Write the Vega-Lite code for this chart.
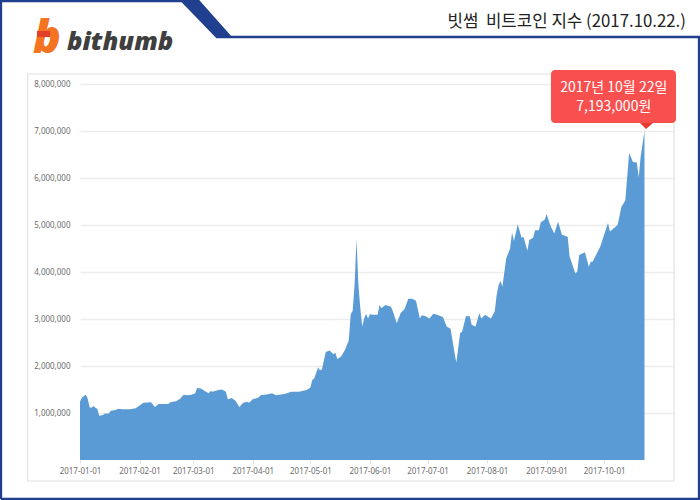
{
  "$schema": "https://vega.github.io/schema/vega-lite/v6.json",
  "autosize": {"type": "none"},
  "padding": {"left": 80, "top": 84, "right": 27, "bottom": 40},
  "width": 593,
  "height": 376,
  "background": "white",
  "datasets": {
    "index": [
      {"date":"2017-01-01","won":1240000},{"date":"2017-01-02","won":1330000},{"date":"2017-01-04","won":1390000},{"date":"2017-01-05","won":1310000},{"date":"2017-01-06","won":1120000},{"date":"2017-01-07","won":1110000},{"date":"2017-01-08","won":1150000},{"date":"2017-01-09","won":1110000},{"date":"2017-01-10","won":1090000},{"date":"2017-01-11","won":940000},{"date":"2017-01-13","won":960000},{"date":"2017-01-14","won":990000},{"date":"2017-01-16","won":990000},{"date":"2017-01-17","won":1050000},{"date":"2017-01-19","won":1060000},{"date":"2017-01-21","won":1090000},{"date":"2017-01-23","won":1080000},{"date":"2017-01-27","won":1080000},{"date":"2017-01-30","won":1100000},
      {"date":"2017-02-01","won":1160000},{"date":"2017-02-03","won":1220000},{"date":"2017-02-07","won":1230000},{"date":"2017-02-09","won":1130000},{"date":"2017-02-11","won":1190000},{"date":"2017-02-16","won":1190000},{"date":"2017-02-17","won":1230000},{"date":"2017-02-20","won":1250000},{"date":"2017-02-22","won":1300000},{"date":"2017-02-24","won":1390000},{"date":"2017-02-26","won":1380000},{"date":"2017-02-28","won":1390000},
      {"date":"2017-03-02","won":1420000},{"date":"2017-03-03","won":1530000},{"date":"2017-03-05","won":1520000},{"date":"2017-03-07","won":1470000},{"date":"2017-03-09","won":1420000},{"date":"2017-03-10","won":1470000},{"date":"2017-03-11","won":1450000},{"date":"2017-03-14","won":1490000},{"date":"2017-03-16","won":1500000},{"date":"2017-03-18","won":1450000},{"date":"2017-03-19","won":1290000},{"date":"2017-03-21","won":1320000},{"date":"2017-03-23","won":1260000},{"date":"2017-03-25","won":1130000},{"date":"2017-03-27","won":1220000},{"date":"2017-03-29","won":1240000},{"date":"2017-03-30","won":1220000},
      {"date":"2017-04-01","won":1290000},{"date":"2017-04-04","won":1330000},{"date":"2017-04-05","won":1380000},{"date":"2017-04-09","won":1400000},{"date":"2017-04-11","won":1420000},{"date":"2017-04-13","won":1380000},{"date":"2017-04-15","won":1390000},{"date":"2017-04-18","won":1410000},{"date":"2017-04-21","won":1450000},{"date":"2017-04-25","won":1450000},{"date":"2017-04-29","won":1490000},
      {"date":"2017-05-01","won":1540000},{"date":"2017-05-02","won":1700000},{"date":"2017-05-03","won":1740000},{"date":"2017-05-05","won":1970000},{"date":"2017-05-06","won":1910000},{"date":"2017-05-07","won":1930000},{"date":"2017-05-09","won":2300000},{"date":"2017-05-11","won":2330000},{"date":"2017-05-13","won":2250000},{"date":"2017-05-14","won":2280000},{"date":"2017-05-15","won":2150000},{"date":"2017-05-17","won":2200000},{"date":"2017-05-19","won":2340000},{"date":"2017-05-21","won":2550000},{"date":"2017-05-22","won":3100000},{"date":"2017-05-23","won":3170000},{"date":"2017-05-24","won":3720000},{"date":"2017-05-25","won":4700000},{"date":"2017-05-26","won":3720000},{"date":"2017-05-27","won":3230000},{"date":"2017-05-28","won":2840000},{"date":"2017-05-29","won":3010000},{"date":"2017-05-30","won":3110000},{"date":"2017-05-31","won":3010000},
      {"date":"2017-06-01","won":3100000},{"date":"2017-06-03","won":3090000},{"date":"2017-06-05","won":3090000},{"date":"2017-06-06","won":3300000},{"date":"2017-06-07","won":3230000},{"date":"2017-06-09","won":3300000},{"date":"2017-06-12","won":3260000},{"date":"2017-06-13","won":3160000},{"date":"2017-06-15","won":2910000},{"date":"2017-06-17","won":3130000},{"date":"2017-06-19","won":3210000},{"date":"2017-06-21","won":3430000},{"date":"2017-06-23","won":3430000},{"date":"2017-06-25","won":3390000},{"date":"2017-06-27","won":3010000},{"date":"2017-06-28","won":3080000},{"date":"2017-06-30","won":3060000},
      {"date":"2017-07-02","won":3010000},{"date":"2017-07-04","won":3110000},{"date":"2017-07-06","won":3090000},{"date":"2017-07-09","won":3040000},{"date":"2017-07-11","won":2840000},{"date":"2017-07-13","won":2790000},{"date":"2017-07-15","won":2300000},{"date":"2017-07-16","won":2070000},{"date":"2017-07-18","won":2700000},{"date":"2017-07-19","won":2730000},{"date":"2017-07-21","won":3060000},{"date":"2017-07-23","won":3060000},{"date":"2017-07-24","won":2880000},{"date":"2017-07-26","won":2840000},{"date":"2017-07-28","won":3120000},{"date":"2017-07-29","won":3010000},{"date":"2017-07-31","won":3090000},
      {"date":"2017-08-03","won":3010000},{"date":"2017-08-05","won":3160000},{"date":"2017-08-06","won":3510000},{"date":"2017-08-07","won":3720000},{"date":"2017-08-08","won":3810000},{"date":"2017-08-09","won":3690000},{"date":"2017-08-11","won":4290000},{"date":"2017-08-13","won":4500000},{"date":"2017-08-14","won":4840000},{"date":"2017-08-15","won":4660000},{"date":"2017-08-17","won":5010000},{"date":"2017-08-19","won":4730000},{"date":"2017-08-20","won":4750000},{"date":"2017-08-22","won":4450000},{"date":"2017-08-23","won":4680000},{"date":"2017-08-25","won":4730000},{"date":"2017-08-26","won":4890000},{"date":"2017-08-28","won":4890000},{"date":"2017-08-29","won":5060000},{"date":"2017-08-31","won":5110000},
      {"date":"2017-09-01","won":5230000},{"date":"2017-09-03","won":4990000},{"date":"2017-09-05","won":4820000},{"date":"2017-09-07","won":5070000},{"date":"2017-09-09","won":4790000},{"date":"2017-09-12","won":4750000},{"date":"2017-09-13","won":4330000},{"date":"2017-09-16","won":3970000},{"date":"2017-09-17","won":4010000},{"date":"2017-09-18","won":4360000},{"date":"2017-09-21","won":4420000},{"date":"2017-09-23","won":4110000},{"date":"2017-09-24","won":4220000},{"date":"2017-09-25","won":4220000},{"date":"2017-09-29","won":4540000},
      {"date":"2017-10-01","won":4790000},{"date":"2017-10-03","won":5040000},{"date":"2017-10-04","won":4860000},{"date":"2017-10-06","won":4930000},{"date":"2017-10-08","won":5000000},{"date":"2017-10-10","won":5390000},{"date":"2017-10-12","won":5520000},{"date":"2017-10-14","won":6530000},{"date":"2017-10-16","won":6340000},{"date":"2017-10-18","won":6330000},{"date":"2017-10-19","won":6010000},{"date":"2017-10-20","won":6450000},{"date":"2017-10-22","won":7000000}
    ],
    "frame": [
      {"i":1,"date":"2016-11-20T20:00:00Z","won":-830000},
      {"i":2,"date":"2016-11-20T20:00:00Z","won":9766000},
      {"i":3,"date":"2017-02-23T03:00:00Z","won":9766000},
      {"i":4,"date":"2017-03-13T08:00:00Z","won":9000000},
      {"i":5,"date":"2017-11-19T10:00:00Z","won":9000000},
      {"i":6,"date":"2017-11-19T10:00:00Z","won":-830000},
      {"i":7,"date":"2016-11-20T20:00:00Z","won":-830000}
    ],
    "tab": [
      {"won":9790000,"date":"2017-02-23T03:00:00Z","date2":"2017-03-04T00:00:00Z"},
      {"won":8979000,"date":"2017-03-13T08:00:00Z","date2":"2017-03-21T16:00:00Z"}
    ],
    "pointer": [
      {"won":7170000,"date":"2017-10-19T17:00:00Z","date2":"2017-10-26T10:00:00Z"},
      {"won":7043000,"date":"2017-10-22T19:00:00Z","date2":"2017-10-22T19:00:00Z"}
    ]
  },
  "layer": [
    {
      "data": {"name": "index"},
      "mark": {"type": "area", "color": "#5b9bd5"},
      "encoding": {
        "x": {
          "field": "date",
          "type": "temporal",
          "title": null,
          "scale": {
            "type": "utc",
            "domain": [
              {"year": 2017, "month": "jan", "date": 1, "utc": true},
              {"year": 2017, "month": "nov", "date": 5, "hours": 20, "minutes": 24, "utc": true}
            ]
          },
          "axis": {
            "values": [
              {"year": 2017, "month": "jan", "date": 1, "utc": true},
              {"year": 2017, "month": "feb", "date": 1, "utc": true},
              {"year": 2017, "month": "mar", "date": 1, "utc": true},
              {"year": 2017, "month": "apr", "date": 1, "utc": true},
              {"year": 2017, "month": "may", "date": 1, "utc": true},
              {"year": 2017, "month": "jun", "date": 1, "utc": true},
              {"year": 2017, "month": "jul", "date": 1, "utc": true},
              {"year": 2017, "month": "aug", "date": 1, "utc": true},
              {"year": 2017, "month": "sep", "date": 1, "utc": true},
              {"year": 2017, "month": "oct", "date": 1, "utc": true}
            ],
            "labelExpr": "utcFormat(datum.value, '%Y-%m-%d')",
            "grid": false,
            "domain": false,
            "ticks": true,
            "tickSize": 3,
            "tickColor": "#e0e0e0",
            "labelPadding": 4,
            "labelFont": "Noto Sans",
            "labelFontSize": 8,
            "labelColor": "#6e6e6e",
            "labelFlush": false,
            "labelOverlap": false,
            "labelAngle": 0
          }
        },
        "y": {
          "field": "won",
          "type": "quantitative",
          "title": null,
          "scale": {"domain": [0, 8000000], "nice": false},
          "axis": {
            "values": [1000000, 2000000, 3000000, 4000000, 5000000, 6000000, 7000000, 8000000],
            "format": ",d",
            "domain": false,
            "ticks": false,
            "grid": true,
            "gridColor": "#ececec",
            "gridWidth": 1.5,
            "labelPadding": 10,
            "labelFont": "Noto Sans",
            "labelFontSize": 8,
            "labelColor": "#6e6e6e"
          }
        }
      }
    },
    {
      "data": {"values": [{"date":"2016-12-04T16:00:00Z","date2":"2017-11-06T10:00:00Z","won":8213000,"won2":-447000}]},
      "mark": {"type": "rect", "fill": null, "stroke": "#e2e2e2", "strokeWidth": 1.2},
      "encoding": {
        "x": {"field": "date", "type": "temporal", "scale": {"type": "utc"}},
        "x2": {"field": "date2"},
        "y": {"field": "won", "type": "quantitative"},
        "y2": {"field": "won2"}
      }
    },
    {
      "data": {"name": "frame"},
      "mark": {"type": "line", "color": "#213f8f", "strokeWidth": 2.4, "clip": false},
      "encoding": {
        "x": {"field": "date", "type": "temporal", "scale": {"type": "utc"}},
        "y": {"field": "won", "type": "quantitative"},
        "order": {"field": "i"}
      }
    },
    {
      "data": {"name": "tab"},
      "mark": {"type": "area", "orient": "horizontal", "color": "#213f8f"},
      "encoding": {
        "y": {"field": "won", "type": "quantitative"},
        "x": {"field": "date", "type": "temporal", "scale": {"type": "utc"}},
        "x2": {"field": "date2"}
      }
    },
    {
      "data": {"name": "pointer"},
      "mark": {"type": "area", "orient": "horizontal", "color": "#e8392f"},
      "encoding": {
        "y": {"field": "won", "type": "quantitative"},
        "x": {"field": "date", "type": "temporal", "scale": {"type": "utc"}},
        "x2": {"field": "date2"}
      }
    },
    {
      "data": {"values": [{"date":"2017-09-03T07:00:00Z","date2":"2017-11-07T10:00:00Z","won":8298000,"won2":7170000}]},
      "mark": {"type": "rect", "color": "#f94f4f", "cornerRadius": 4},
      "encoding": {
        "x": {"field": "date", "type": "temporal", "scale": {"type": "utc"}},
        "x2": {"field": "date2"},
        "y": {"field": "won", "type": "quantitative"},
        "y2": {"field": "won2"}
      }
    },
    {
      "data": {"values": [
        {"date":"2017-10-06T00:00:00Z","won":7915000,"label":"2017년 10월 22일"},
        {"date":"2017-10-06T00:00:00Z","won":7510000,"label":"7,193,000원"}
      ]},
      "mark": {"type": "text", "color": "white", "font": "Noto Sans CJK KR", "fontSize": 14, "align": "center", "baseline": "middle"},
      "encoding": {
        "x": {"field": "date", "type": "temporal", "scale": {"type": "utc"}},
        "y": {"field": "won", "type": "quantitative"},
        "text": {"field": "label"}
      }
    },
    {
      "data": {"values": [{"date":"2017-11-12T14:00:00Z","won":9319000,"label":"빗썸\u00a0\u00a0비트코인 지수 (2017.10.22.)"}]},
      "mark": {"type": "text", "color": "#222222", "font": "Noto Sans CJK KR", "fontSize": 16.8, "align": "right", "baseline": "middle"},
      "encoding": {
        "x": {"field": "date", "type": "temporal", "scale": {"type": "utc"}},
        "y": {"field": "won", "type": "quantitative"},
        "text": {"field": "label"}
      }
    },
    {
      "data": {"values": [{"date":"2016-12-25T06:00:00Z","won":8894000,"label":"bithumb"}]},
      "mark": {"type": "text", "color": "#3f3f3f", "font": "Open Sans", "fontWeight": 800, "fontStyle": "italic", "fontSize": 25.5, "align": "left", "baseline": "middle"},
      "encoding": {
        "x": {"field": "date", "type": "temporal", "scale": {"type": "utc"}},
        "y": {"field": "won", "type": "quantitative"},
        "text": {"field": "label"}
      }
    },
    {
      "data": {"values": [{"date":"2016-12-07T12:00:00Z","won":8957000,"label":"b"}]},
      "mark": {"type": "text", "color": "#f47421", "font": "Open Sans", "fontWeight": 800, "fontStyle": "italic", "fontSize": 46, "align": "left", "baseline": "middle"},
      "encoding": {
        "x": {"field": "date", "type": "temporal", "scale": {"type": "utc"}},
        "y": {"field": "won", "type": "quantitative"},
        "text": {"field": "label"}
      }
    },
    {
      "data": {"values": [{"date":"2016-12-09T14:00:00Z","date2":"2016-12-16T10:00:00Z","won":9128000,"won2":9000000}]},
      "mark": {"type": "rect", "color": "#e2402a"},
      "encoding": {
        "x": {"field": "date", "type": "temporal", "scale": {"type": "utc"}},
        "x2": {"field": "date2"},
        "y": {"field": "won", "type": "quantitative"},
        "y2": {"field": "won2"}
      }
    }
  ],
  "config": {"view": {"stroke": null}}
}
